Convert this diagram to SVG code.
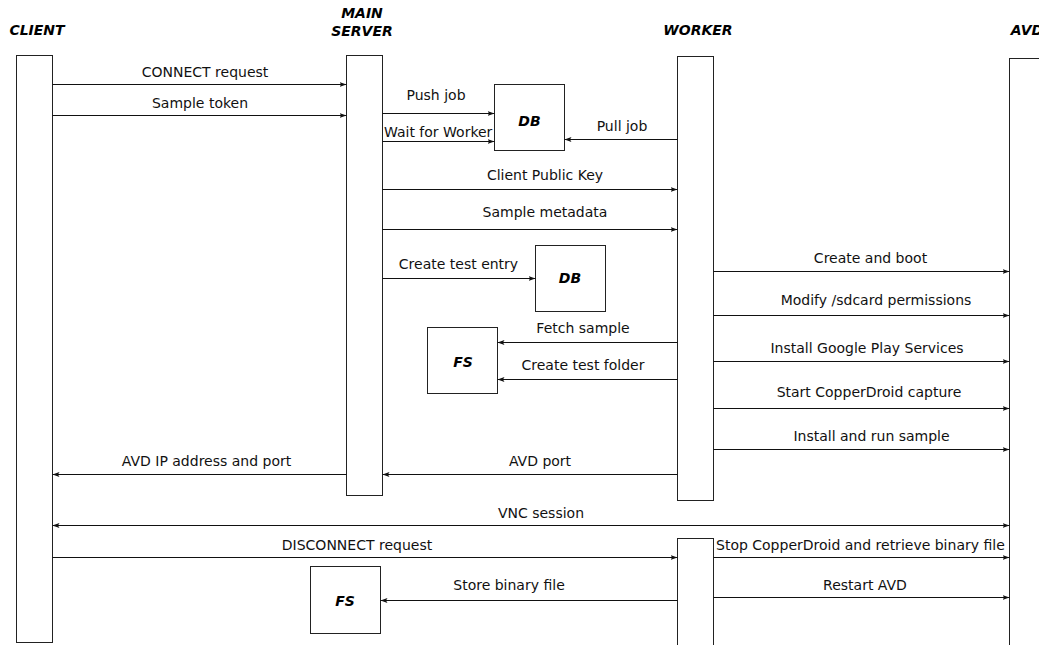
<svg xmlns="http://www.w3.org/2000/svg" width="1039" height="645" viewBox="0 0 1039 645">
  <style>
    .box { fill: #ffffff; stroke: #222222; stroke-width: 1; }
    .msg { stroke: #111111; stroke-width: 1; fill: none; marker-end: url(#head); }
    .both { marker-start: url(#tail); }
    .lbl { font-family: "DejaVu Sans", sans-serif; font-size: 14px; fill: #111111; text-anchor: middle; }
    .start { text-anchor: start; }
    .title { font-family: "DejaVu Sans", sans-serif; font-size: 14px; font-weight: bold; font-style: italic; fill: #000000; text-anchor: middle; }
  </style>
  <defs>
    <marker id="head" markerUnits="userSpaceOnUse" markerWidth="8" markerHeight="6" refX="7" refY="3" orient="auto">
      <path d="M0,0.5 L7,3 L0,5.5 L1.5,3 z" fill="#111111"/>
    </marker>
    <marker id="tail" markerUnits="userSpaceOnUse" markerWidth="8" markerHeight="6" refX="0" refY="3" orient="auto">
      <path d="M7,0.5 L0,3 L7,5.5 L5.5,3 z" fill="#111111"/>
    </marker>
  </defs>
  <rect width="1039" height="645" fill="#ffffff"/>

  <!-- participants -->
  <g id="client">
    <text class="title" x="37" y="35">CLIENT</text>
    <rect class="box" x="16.5" y="55.5" width="36" height="587"/>
  </g>
  <g id="main-server">
    <text class="title" x="362" y="18">MAIN</text>
    <text class="title" x="362" y="36">SERVER</text>
    <rect class="box" x="346.5" y="55.5" width="36" height="440"/>
  </g>
  <g id="worker">
    <text class="title" x="698" y="35">WORKER</text>
    <rect class="box" x="677.5" y="56.5" width="36" height="444"/>
  </g>
  <g id="worker-2">
    <rect class="box" x="677.5" y="538.5" width="36" height="120"/>
  </g>
  <g id="avd">
    <text class="title" x="1027" y="35">AVD</text>
    <rect class="box" x="1009.5" y="58.5" width="36" height="600"/>
  </g>

  <!-- stores -->
  <g id="db-1">
    <rect class="box" x="494.5" y="84.5" width="70" height="66"/>
    <text class="title" x="529.5" y="126">DB</text>
  </g>
  <g id="db-2">
    <rect class="box" x="535.5" y="245.5" width="70" height="66"/>
    <text class="title" x="570" y="283">DB</text>
  </g>
  <g id="fs-1">
    <rect class="box" x="427.5" y="327.5" width="70" height="66"/>
    <text class="title" x="463" y="367">FS</text>
  </g>
  <g id="fs-2">
    <rect class="box" x="310.5" y="566.5" width="70" height="67"/>
    <text class="title" x="345" y="605.5">FS</text>
  </g>

  <!-- messages -->
  <g id="connectors">
    <line class="msg" x1="52.5" y1="84.5" x2="346.5" y2="84.5"/>
    <line class="msg" x1="52.5" y1="115.5" x2="346.5" y2="115.5"/>
    <line class="msg" x1="382.5" y1="113.5" x2="494.5" y2="113.5"/>
    <line class="msg" x1="382.5" y1="141.5" x2="494.5" y2="141.5"/>
    <line class="msg" x1="677.5" y1="139.5" x2="564.5" y2="139.5"/>
    <line class="msg" x1="382.5" y1="189.5" x2="677.5" y2="189.5"/>
    <line class="msg" x1="382.5" y1="229.5" x2="677.5" y2="229.5"/>
    <line class="msg" x1="382.5" y1="278.5" x2="535.5" y2="278.5"/>
    <line class="msg" x1="677.5" y1="342.5" x2="497.5" y2="342.5"/>
    <line class="msg" x1="677.5" y1="379.5" x2="497.5" y2="379.5"/>
    <line class="msg" x1="713.5" y1="271.5" x2="1009.5" y2="271.5"/>
    <line class="msg" x1="713.5" y1="315.5" x2="1009.5" y2="315.5"/>
    <line class="msg" x1="713.5" y1="361.5" x2="1009.5" y2="361.5"/>
    <line class="msg" x1="713.5" y1="408.5" x2="1009.5" y2="408.5"/>
    <line class="msg" x1="713.5" y1="449.5" x2="1009.5" y2="449.5"/>
    <line class="msg" x1="346.5" y1="474.5" x2="52.5" y2="474.5"/>
    <line class="msg" x1="677.5" y1="474.5" x2="382.5" y2="474.5"/>
    <line class="msg both" x1="52.5" y1="525.5" x2="1009.5" y2="525.5"/>
    <line class="msg" x1="52.5" y1="557.5" x2="677.5" y2="557.5"/>
    <line class="msg" x1="713.5" y1="557.5" x2="1009.5" y2="557.5"/>
    <line class="msg" x1="713.5" y1="597.5" x2="1009.5" y2="597.5"/>
    <line class="msg" x1="677.5" y1="600.5" x2="380.5" y2="600.5"/>
  </g>

  <!-- message labels -->
  <g id="labels">
    <text class="lbl" x="205" y="76.5">CONNECT request</text>
    <text class="lbl" x="200" y="107.5">Sample token</text>
    <text class="lbl" x="436" y="99.5">Push job</text>
    <text class="lbl start" x="384" y="136.5">Wait for Worker</text>
    <text class="lbl" x="622" y="130.5">Pull job</text>
    <text class="lbl" x="545" y="180">Client Public Key</text>
    <text class="lbl" x="545" y="217">Sample metadata</text>
    <text class="lbl" x="458.5" y="269">Create test entry</text>
    <text class="lbl" x="583" y="333">Fetch sample</text>
    <text class="lbl" x="583" y="370">Create test folder</text>
    <text class="lbl" x="870.5" y="263">Create and boot</text>
    <text class="lbl" x="876" y="305">Modify /sdcard permissions</text>
    <text class="lbl" x="867" y="352.5">Install Google Play Services</text>
    <text class="lbl" x="869" y="396.5">Start CopperDroid capture</text>
    <text class="lbl" x="871.5" y="441">Install and run sample</text>
    <text class="lbl" x="206.5" y="465.5">AVD IP address and port</text>
    <text class="lbl" x="540" y="465.5">AVD port</text>
    <text class="lbl" x="541" y="518">VNC session</text>
    <text class="lbl" x="357" y="549.5">DISCONNECT request</text>
    <text class="lbl start" x="716" y="549.5">Stop CopperDroid and retrieve binary file</text>
    <text class="lbl" x="865" y="590">Restart AVD</text>
    <text class="lbl" x="509" y="590">Store binary file</text>
  </g>
</svg>
